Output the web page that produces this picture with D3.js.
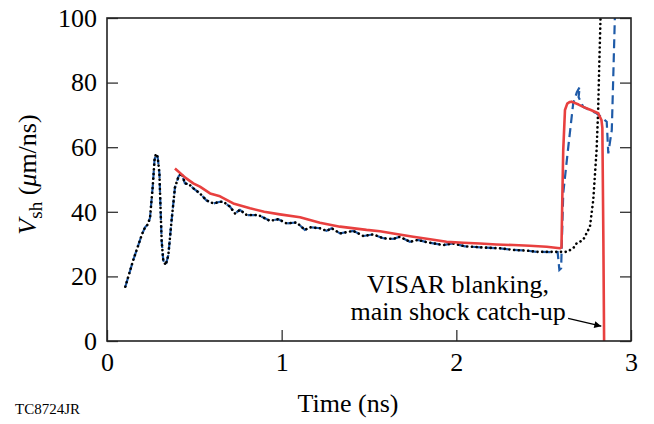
<!DOCTYPE html>
<html>
<head>
<meta charset="utf-8">
<script src="https://cdn.jsdelivr.net/npm/d3@7"></script>
<style>
  html, body { margin: 0; padding: 0; background: #fff; }
  svg { display: block; font-family: "Liberation Serif", "Times New Roman", serif; }
</style>
</head>
<body>
<svg id="chart" width="654" height="424"></svg>
<script>
// ---- Data ----
const xTicks = [0, 1, 2, 3];
const yTicks = [0, 20, 40, 60, 80, 100];

// Black dotted series
const blackTime = [0.105,0.15,0.2,0.218,0.232,0.246,0.262,0.272,0.28,0.29,0.3,0.306,0.313,0.322,0.336,0.351,0.37,0.389,0.41,0.427,0.446,0.47,0.5,0.532,0.57,0.609,0.647,0.666,0.704,0.733,0.761,0.8,0.866,0.933,0.981,1.029,1.086,1.133,1.162,1.219,1.257,1.286,1.334,1.41,1.468,1.524,1.582,1.639,1.677,1.734,1.78,1.83,1.925,1.98,2.05,2.173,2.25,2.326,2.4,2.46,2.593,2.631,2.669,2.688,2.726,2.765,2.784,2.803,2.812,2.818,2.826];
const blackV    = [16.8,25,33,35.2,36,38,48,56,58,57,52,42,31,25,23.5,26.5,37.5,47.5,51,52,48.8,48.5,47,45.7,43.5,42.6,43.1,43.1,41.6,39.5,40.6,39,39,37.2,37.7,36.4,36.7,34.4,35.2,34.9,34.1,34.9,33.3,34.1,32.5,33,31.8,31.6,32.3,30.7,31.3,30.6,29.7,30.2,29.3,28.9,28.7,28.2,28.0,27.6,27.6,27.6,28.7,30.2,31.3,35.4,43.7,59.1,71.5,84.9,101];

// Blue dashed series
const blueTime = [0.105,0.15,0.2,0.218,0.232,0.246,0.262,0.272,0.28,0.29,0.3,0.306,0.313,0.322,0.336,0.351,0.37,0.389,0.41,0.427,0.446,0.47,0.5,0.532,0.57,0.609,0.647,0.666,0.704,0.733,0.761,0.8,0.866,0.933,0.981,1.029,1.086,1.133,1.162,1.219,1.257,1.286,1.334,1.41,1.468,1.524,1.582,1.639,1.677,1.734,1.78,1.83,1.925,1.98,2.05,2.173,2.25,2.326,2.4,2.46,2.58,2.59,2.6,2.612,2.641,2.669,2.69,2.707,2.703,2.7,2.726,2.803,2.861,2.87,2.89,2.898,2.908];
const blueV    = [16.8,25,33,35.2,36,38,48,56,58,57,52,42,31,25,23.5,26.5,37.5,47.5,51,52,48.8,48.5,47,45.7,43.5,42.6,43.1,43.1,41.6,39.5,40.6,39,39,37.2,37.7,36.4,36.7,34.4,35.2,34.9,34.1,34.9,33.3,34.1,32.5,33,31.8,31.6,32.3,30.7,31.3,30.6,29.7,30.2,29.3,28.9,28.7,28.2,28.0,27.6,27.5,22,22.5,45.7,60.1,73.5,77,78.7,77,75.5,72.5,70.5,67.9,58.1,65.3,80.8,101];

// Red solid series
const redTime = [0.389,0.45,0.494,0.532,0.59,0.647,0.723,0.819,0.9,0.99,1.105,1.219,1.334,1.486,1.563,1.639,1.753,1.85,1.944,2.04,2.135,2.23,2.326,2.42,2.517,2.593,2.602,2.607,2.612,2.622,2.635,2.65,2.66,2.7,2.726,2.77,2.812,2.831,2.836,2.842,2.846];
const redV    = [53.4,50.5,48.8,47.8,45.7,44.8,42.6,41.1,40,39.2,38.3,36.6,35.4,34.4,34.0,33.3,32.3,31.5,30.7,30.4,30.2,29.9,29.7,29.5,29.2,28.7,29,45,59,71.5,73.5,74,74.1,73.2,72.5,71.5,70.5,68.4,66,30,0];

const annotationLines = ["VISAR blanking,", "main shock catch-up"];
const arrowFrom = [2.64, 7.0];
const arrowTo = [2.83, 4.6];

// ---- Layout ----
const W = 654, H = 424;
const margin = { left: 107, top: 18, right: 23, bottom: 83 };
const iw = W - margin.left - margin.right;
const ih = H - margin.top - margin.bottom;

const svg = d3.select("#chart");
const g = svg.append("g").attr("transform", `translate(${margin.left},${margin.top})`);

const x = d3.scaleLinear().domain([0, 3]).range([0, iw]);
const y = d3.scaleLinear().domain([0, 100]).range([ih, 0]);

svg.append("defs").append("clipPath").attr("id", "clip")
  .append("rect").attr("x", 0).attr("y", 0).attr("width", iw).attr("height", ih);
svg.select("defs").append("marker")
  .attr("id", "arrow").attr("viewBox", "0 0 10 10").attr("refX", 10).attr("refY", 5)
  .attr("markerWidth", 11).attr("markerHeight", 7).attr("markerUnits", "userSpaceOnUse")
  .attr("orient", "auto")
  .append("path").attr("d", "M0,0 L10,5 L0,10 Z").attr("fill", "#000");

const fontSize = 26;

// Axes
const xAxis = g.append("g").attr("transform", `translate(0,${ih})`)
  .call(d3.axisBottom(x).tickValues(xTicks).tickFormat(d3.format("d")).tickSize(-11).tickPadding(12));
const yAxis = g.append("g")
  .call(d3.axisLeft(y).tickValues(yTicks).tickFormat(d3.format("d")).tickSize(-11).tickPadding(10));
const yAxisR = g.append("g").attr("transform", `translate(${iw},0)`)
  .call(d3.axisRight(y).tickValues(yTicks).tickFormat("").tickSize(-11));
[xAxis, yAxis, yAxisR].forEach(a => {
  a.select(".domain").remove();
  a.selectAll(".tick line").attr("stroke", "#333").attr("stroke-width", 1.3);
  a.selectAll(".tick text").attr("font-size", fontSize).attr("fill", "#000")
    .attr("font-family", "Liberation Serif, Times New Roman, serif");
});

// Lines
const line = d3.line().x(d => x(d[0])).y(d => y(d[1]));
const plot = g.append("g").attr("clip-path", "url(#clip)");

const blueData = blueTime.map((t, i) => [t, blueV[i]]);
const blackData = blackTime.map((t, i) => [t, blackV[i]]);
const redData = redTime.map((t, i) => [t, redV[i]]);

plot.append("path").datum(blueData).attr("d", line)
  .attr("fill", "none").attr("stroke", "#1f5ba8").attr("stroke-width", 2.2)
  .attr("stroke-dasharray", "9,5");
plot.append("path").datum(blackData).attr("d", line)
  .attr("fill", "none").attr("stroke", "#000").attr("stroke-width", 2.6)
  .attr("stroke-dasharray", "0.1,4.6").attr("stroke-linecap", "round");
plot.append("path").datum(redData).attr("d", line)
  .attr("fill", "none").attr("stroke", "#e8403f").attr("stroke-width", 2.6)
  .attr("stroke-linejoin", "round");

// Frame
g.append("rect").attr("x", 0).attr("y", 0).attr("width", iw).attr("height", ih)
  .attr("fill", "none").attr("stroke", "#222").attr("stroke-width", 1.6);

// Annotation
const ann = g.append("text").attr("font-size", fontSize).attr("text-anchor", "middle").attr("fill", "#000");
ann.append("tspan").attr("x", x(2.01)).attr("y", y(14.8)).text(annotationLines[0]);
ann.append("tspan").attr("x", x(2.01)).attr("y", y(6.5)).text(annotationLines[1]);
g.append("line")
  .attr("x1", x(arrowFrom[0])).attr("y1", y(arrowFrom[1]))
  .attr("x2", x(arrowTo[0])).attr("y2", y(arrowTo[1]))
  .attr("stroke", "#000").attr("stroke-width", 1.3).attr("marker-end", "url(#arrow)");

// Axis titles
svg.append("text").attr("x", 348).attr("y", 412)
  .attr("text-anchor", "middle").attr("font-size", fontSize).text("Time (ns)");

const yt = svg.append("text")
  .attr("transform", `translate(36,${margin.top + ih / 2 - 5}) rotate(-90)`)
  .attr("text-anchor", "middle").attr("font-size", fontSize);
yt.append("tspan").attr("font-style", "italic").text("V");
yt.append("tspan").attr("font-size", 19).attr("dy", 6).text("sh");
yt.append("tspan").attr("dy", -6).text(" (");
yt.append("tspan").attr("font-style", "italic").text("\u03bc");
yt.append("tspan").text("m/ns)");

svg.append("text").attr("x", 15).attr("y", 414).attr("font-size", 15).text("TC8724JR");
</script>
</body>
</html>
